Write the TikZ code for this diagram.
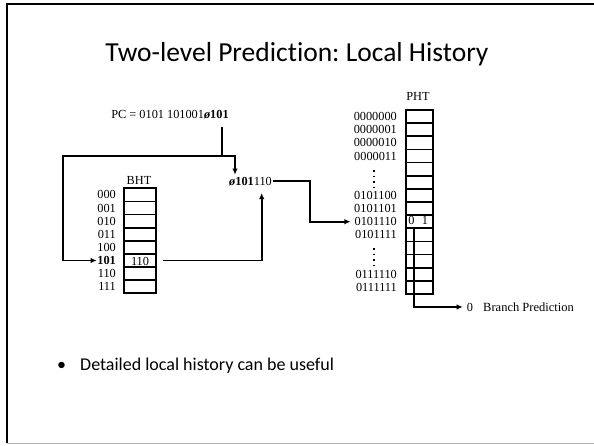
\documentclass[tikz,border=0pt]{standalone}
\usepackage{fontspec}
\setmainfont{Liberation Serif}
\newfontfamily\slidefont[Ligatures=NoCommon]{Carlito}
\usetikzlibrary{arrows.meta,calc}
\frenchspacing

\tikzset{
  wire/.style={line width=1.8pt},
  tip/.style={-{Latex[length=6pt,width=5.5pt]}},
  cell/.style={draw,line width=1.7pt,minimum width=#1,minimum height=13.1pt,inner sep=0pt,outer sep=0pt},
  lbl/.style={font=\fontsize{12.3}{12.3}\selectfont,inner sep=0pt,anchor=east},
  dots/.style={line width=1.6pt,dash pattern=on 1.6pt off 4pt},
}

\begin{document}
\begin{tikzpicture}[x=1pt,y=-1pt]
\useasboundingbox (0,0) rectangle (594,445);
\fill[white] (0,0) rectangle (594,445);

% slide frame
\draw[line width=2pt] (596,4) -- (7,4) -- (7,443);
\draw[line width=0.8pt,gray!60] (7,443) -- (596,443);

% title and bullet
\node[font=\slidefont\fontsize{27.5}{27.5}\selectfont,anchor=base] (title) at (297,61.7) {Two-level Prediction: Local History};
\node[font=\slidefont\fontsize{18}{18}\selectfont,anchor=base] (bul) at (61.5,370) {•};
\node[font=\slidefont\fontsize{18}{18}\selectfont,anchor=base west,inner sep=0pt] (btxt) at (80,370) {Detailed local history can be useful};

% program counter
\node[font=\fontsize{12.3}{12.3}\selectfont,inner sep=1pt] (pc) at (170,115) {PC = 0101 101001\textbf{\textit{ø}}\textbf{101}};

% branch history table
\node[font=\fontsize{12.3}{12.3}\selectfont,inner sep=0pt] (bht) at (139,180) {BHT};
\foreach \lab [count=\i from 0] in {000,001,010,011,100,\textbf{101},110,111} {
  \node[cell=32pt] (b\i) at (140,{188.3+13.125*(\i+0.5)}) {};
  \node[lbl] (l\i) at (116,{188.3+13.125*(\i+0.5)}) {\lab};
}
\node[font=\fontsize{12.3}{12.3}\selectfont,inner sep=0pt] (bval) at (140,261) {110};

% history register
\node[font=\fontsize{12.3}{12.3}\selectfont,inner sep=1pt,anchor=base] (hist) at (250.5,185) {\textbf{\textit{ø}101}110};

% pattern history table
\node[font=\fontsize{12.3}{12.3}\selectfont,inner sep=0pt] (pht) at (418,96.7) {PHT};
\foreach \i in {0,...,13} {
  \node[cell=26.7pt] (p\i) at (419.35,{110+13.14*(\i+0.5)}) {};
}
\foreach \lab/\i in {0000000/0,0000001/1,0000010/2,0000011/3,0101100/6,0101101/7,0101110/8,0101111/9,0111110/12,0111111/13} {
  \node[lbl] (q\i) at (397,{110+13.14*(\i+0.5)}) {\lab};
}
\draw[dots] (374,170) -- (374,188);
\draw[dots] (374,248) -- (374,266);
\node[font=\fontsize{12.3}{12.3}\selectfont,inner sep=0pt] (v0) at (411.5,220) {0};
\node[font=\fontsize{12.3}{12.3}\selectfont,inner sep=0pt] (v1) at (425,220) {1};

% prediction output
\node[font=\fontsize{12.3}{12.3}\selectfont,inner sep=0pt,anchor=base] (out) at (470,311) {0};
\node[font=\fontsize{12.5}{12.5}\selectfont,inner sep=0pt,anchor=base west] (bp) at (483,311) {Branch Prediction};

% connectors
\coordinate (j) at (221.7,156);
\coordinate (k) at (235,156);
\coordinate (c1) at (63,156);
\coordinate (up) at (261.7,193);
\coordinate (bend) at (310,0);
\coordinate (tap) at (414.3,0);

\draw[wire] ([yshift=-6pt]pc.south -| j) -- (j);
\draw[wire,tip] (j) -- (c1) -- (c1 |- l5) -- ([xshift=-0.5pt]l5.west);
\draw[wire,tip] (j) -- (k) -- ([yshift=1pt]k |- hist.north);
\draw[wire,tip] ([xshift=6.5pt]b5.east) -| (up);
\draw[wire,tip] (hist.east) -| (bend |- q8) -- ([xshift=-4pt]q8.west);
\draw[wire,tip] (p9.north -| tap) -- (tap |- out.west) -- ([xshift=-4pt]out.west);
\end{tikzpicture}
\end{document}
